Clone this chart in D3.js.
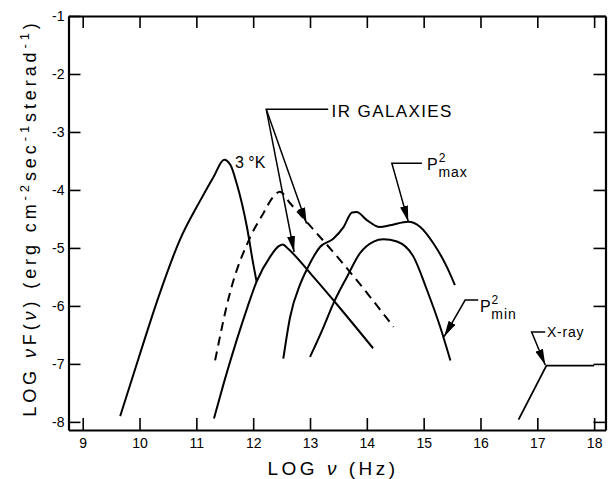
<!DOCTYPE html>
<html>
<head>
<meta charset="utf-8">
<script src="https://cdn.jsdelivr.net/npm/d3@7"></script>
<style>
  body { margin: 0; background: #fff; }
  svg { display: block; font-family: "Liberation Sans", Arial, sans-serif; }
  .axis path, .axis line { stroke: #000; }
  .axis text { font-size: 14px; fill: #000; font-family: "Liberation Sans", Arial, sans-serif; }
</style>
</head>
<body>
<script>
// tick values
const xTicks = [9, 10, 11, 12, 13, 14, 15, 16, 17, 18];
const yTicks = [-1, -2, -3, -4, -5, -6, -7, -8];

// 3 K background
const cmbX = [9.66, 10.00, 10.35, 10.71, 11.07, 11.30, 11.49, 11.60, 11.71, 11.89, 12.00, 12.06];
const cmbY = [-7.90, -6.85, -5.80, -4.86, -4.18, -3.78, -3.48, -3.57, -3.89, -4.64, -5.27, -5.58];

// IR galaxies, solid
const irSolidX = [11.31, 11.48, 11.71, 11.90, 12.06, 12.30, 12.45, 12.52, 12.62, 13.06, 13.53, 14.11];
const irSolidY = [-7.94, -7.34, -6.59, -6.02, -5.58, -5.15, -4.97, -4.94, -5.02, -5.50, -6.04, -6.73];

// IR galaxies, dashed
const irDashX = [11.33, 11.59, 11.95, 12.18, 12.35, 12.47, 12.65, 12.94, 13.53, 14.47];
const irDashY = [-6.94, -5.78, -4.81, -4.40, -4.12, -4.03, -4.23, -4.55, -5.21, -6.36];

// P^2 max
const pmaxX = [12.53, 12.65, 12.83, 12.94, 13.18, 13.41, 13.59, 13.74, 13.82, 14.00, 14.23, 14.41, 14.73, 14.94, 15.17, 15.41, 15.55];
const pmaxY = [-6.91, -6.19, -5.62, -5.38, -4.98, -4.84, -4.64, -4.39, -4.38, -4.52, -4.64, -4.61, -4.55, -4.64, -4.92, -5.33, -5.64];

// P^2 min
const pminX = [13.00, 13.24, 13.41, 13.65, 13.88, 14.12, 14.29, 14.53, 14.82, 15.06, 15.29, 15.47];
const pminY = [-6.88, -6.36, -5.96, -5.50, -5.09, -4.89, -4.85, -4.89, -5.15, -5.73, -6.36, -6.94];

// X-ray
const xrayX = [16.67, 17.16, 18.0];
const xrayY = [-7.96, -7.03, -7.03];

const WIDTH = 609;
const HEIGHT = 479;

const x = d3.scaleLinear().domain([8.75, 18.2]).range([68.5, 605.5]);
const y = d3.scaleLinear().domain([-1, -8.14]).range([16, 430]);

const svg = d3.select('body')
  .append('svg')
  .attr('width', WIDTH)
  .attr('height', HEIGHT);

svg.append('defs').append('marker')
  .attr('id', 'arrow')
  .attr('viewBox', '0 0 16 8')
  .attr('refX', 16)
  .attr('refY', 4)
  .attr('markerWidth', 16)
  .attr('markerHeight', 8)
  .attr('markerUnits', 'userSpaceOnUse')
  .attr('orient', 'auto')
  .append('path')
  .attr('d', 'M0,0 L16,4 L0,8 Z')
  .attr('fill', '#000');

// AXES (ticks point inward on all four sides)
const fmt = d => String(d);

svg.append('g')
  .attr('class', 'axis')
  .attr('transform', 'translate(0,' + y.range()[1] + ')')
  .call(d3.axisBottom(x).tickValues(xTicks).tickSizeInner(-12).tickSizeOuter(0).tickPadding(8).tickFormat(fmt));

svg.append('g')
  .attr('class', 'axis')
  .attr('transform', 'translate(0,' + y.range()[0] + ')')
  .call(d3.axisTop(x).tickValues(xTicks).tickSizeInner(-12).tickSizeOuter(0).tickFormat(''));

svg.append('g')
  .attr('class', 'axis')
  .attr('transform', 'translate(' + x.range()[0] + ',0)')
  .call(d3.axisLeft(y).tickValues(yTicks).tickSizeInner(-12).tickSizeOuter(0).tickPadding(4).tickFormat(fmt));

svg.append('g')
  .attr('class', 'axis')
  .attr('transform', 'translate(' + x.range()[1] + ',0)')
  .call(d3.axisRight(y).tickValues(yTicks).tickSizeInner(-12).tickSizeOuter(0).tickFormat(''));

svg.selectAll('.axis path').attr('stroke-width', 2.2);
svg.selectAll('.axis line').attr('stroke-width', 1.6);

// CURVES
const line = d3.line()
  .x(d => x(d[0]))
  .y(d => y(d[1]))
  .curve(d3.curveMonotoneX);

const curves = [
  { xs: cmbX, ys: cmbY, dash: null },
  { xs: irSolidX, ys: irSolidY, dash: null },
  { xs: irDashX, ys: irDashY, dash: '9,6' },
  { xs: pmaxX, ys: pmaxY, dash: null },
  { xs: pminX, ys: pminY, dash: null },
];

svg.append('g')
  .selectAll('path')
  .data(curves)
  .enter()
  .append('path')
  .attr('d', c => line(d3.zip(c.xs, c.ys)))
  .attr('fill', 'none')
  .attr('stroke', '#000')
  .attr('stroke-width', 2)
  .attr('stroke-dasharray', c => c.dash);

svg.append('path')
  .attr('d', d3.line().x(d => x(d[0])).y(d => y(d[1]))(d3.zip(xrayX, xrayY)))
  .attr('fill', 'none')
  .attr('stroke', '#000')
  .attr('stroke-width', 1.8);

// ANNOTATIONS (leader lines in data units)
function leader(pts) {
  svg.append('path')
    .attr('d', d3.line().x(d => x(d[0])).y(d => y(d[1]))(pts))
    .attr('fill', 'none')
    .attr('stroke', '#000')
    .attr('stroke-width', 1.5)
    .attr('marker-end', 'url(#arrow)');
}

leader([[13.32, -2.61], [12.23, -2.61], [12.72, -5.07]]);
leader([[12.23, -2.61], [12.94, -4.58]]);
leader([[14.97, -3.54], [14.44, -3.54], [14.73, -4.55]]);
leader([[15.96, -5.90], [15.73, -5.90], [15.36, -6.53]]);
leader([[17.14, -6.45], [16.90, -6.45], [17.14, -7.02]]);

svg.append('text')
  .attr('x', x(13.38)).attr('y', y(-2.74))
  .attr('font-size', 17).attr('letter-spacing', 1.4)
  .text('IR GALAXIES');

svg.append('text')
  .attr('x', x(11.68)).attr('y', y(-3.62))
  .attr('font-size', 16)
  .text('3 °K');

function pLabel(px, py, sub) {
  const t = svg.append('text')
    .attr('x', x(px)).attr('y', y(py))
    .attr('font-size', 16);
  t.append('tspan').text('P');
  t.append('tspan').attr('font-size', 12).attr('dy', -8).attr('dx', 1).text('2');
  t.append('tspan').attr('font-size', 14).attr('dy', 15).attr('dx', -7).attr('letter-spacing', 1).text(sub);
}
pLabel(15.06, -3.66, 'max');
pLabel(15.99, -6.10, 'min');

svg.append('text')
  .attr('x', x(17.17)).attr('y', y(-6.54))
  .attr('font-size', 14).attr('letter-spacing', 0.8)
  .text('X-ray');

// AXIS TITLES
svg.append('text')
  .attr('x', 333).attr('y', 475)
  .attr('text-anchor', 'middle')
  .attr('font-size', 19).attr('letter-spacing', 3.5)
  .html('LOG <tspan font-style="italic">ν</tspan> (Hz)');

svg.append('text')
  .attr('transform', 'translate(36,218) rotate(-90)')
  .attr('text-anchor', 'middle')
  .attr('font-size', 18).attr('letter-spacing', 3.9)
  .html('LOG  <tspan font-style="italic">ν</tspan>F(<tspan font-style="italic">ν</tspan>)  (erg cm<tspan font-size="13" dy="-7">-2</tspan><tspan dy="7">sec</tspan><tspan font-size="13" dy="-7">-1</tspan><tspan dy="7">sterad</tspan><tspan font-size="13" dy="-7">-1</tspan><tspan dy="7">)</tspan>');
</script>
</body>
</html>
